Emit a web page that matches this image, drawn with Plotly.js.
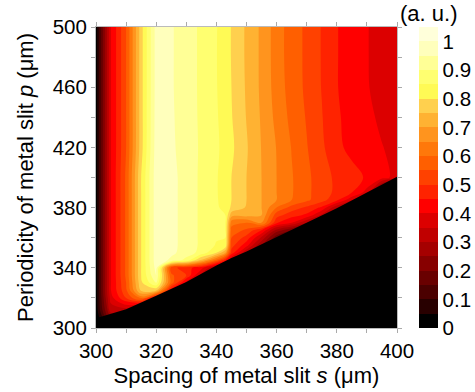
<!DOCTYPE html>
<html>
<head>
<meta charset="utf-8">
<script src="https://cdn.plot.ly/plotly-3.0.1.min.js"></script>
<style>html,body{margin:0;padding:0;background:#fff;}#chart{width:475px;height:392px;}</style>
</head>
<body>
<div id="chart"></div>
<script>
// Spacing of metal slit s (um) - columns
const spacing = [300,305,310,315,320,325,330,335,340,343,345,350,355,360,365,370,375,380,385,390,395,400];
// Periodicity of metal slit p (um) - rows
const periodicity = [300,310,320,325,330,335,340,345,350,355,360,365,370,375,380,385,390,400,420,440,460,480,500];
// Normalized intensity (a. u.), one row per periodicity value
const z300 = [0,0.10,0.05,0,0,0,0,0,0,0,0,0,0,0,0,0,0,0,0,0,0,0];
const z310 = [0.01,0.30,0.28,0.05,0,0,0,0,0,0,0,0,0,0,0,0,0,0,0,0,0,0];
const z320 = [0.02,0.38,0.50,0.62,0.40,0.05,0,0,0,0,0,0,0,0,0,0,0,0,0,0,0,0];
const z325 = [0.02,0.40,0.54,0.76,0.76,0.42,0.02,0,0,0,0,0,0,0,0,0,0,0,0,0,0,0];
const z330 = [0.02,0.40,0.55,0.79,0.90,0.58,0.38,0.03,0,0,0,0,0,0,0,0,0,0,0,0,0,0];
const z335 = [0.02,0.40,0.56,0.80,0.95,0.56,0.50,0.33,0.03,0.01,0,0,0,0,0,0,0,0,0,0,0,0];
const z340 = [0.02,0.40,0.56,0.80,0.97,0.52,0.47,0.42,0.28,0.15,0.08,0,0,0,0,0,0,0,0,0,0,0];
const z345 = [0.02,0.40,0.56,0.80,0.98,0.94,0.88,0.74,0.58,0.45,0.33,0.06,0,0,0,0,0,0,0,0,0,0];
const z350 = [0.02,0.40,0.56,0.80,0.98,0.96,0.93,0.88,0.80,0.70,0.48,0.30,0.06,0,0,0,0,0,0,0,0,0];
const z355 = [0.02,0.40,0.56,0.80,0.98,0.965,0.93,0.89,0.845,0.84,0.52,0.42,0.25,0.04,0,0,0,0,0,0,0,0];
const z360 = [0.02,0.40,0.56,0.80,0.98,0.965,0.93,0.89,0.855,0.85,0.55,0.48,0.34,0.16,0.02,0,0,0,0,0,0,0];
const z365 = [0.02,0.40,0.56,0.80,0.98,0.965,0.93,0.89,0.855,0.85,0.58,0.54,0.45,0.28,0.20,0.03,0,0,0,0,0,0];
const z370 = [0.02,0.40,0.56,0.80,0.98,0.965,0.93,0.89,0.855,0.85,0.62,0.60,0.66,0.46,0.40,0.30,0.05,0,0,0,0,0];
const z375 = [0.02,0.40,0.56,0.80,0.98,0.965,0.93,0.89,0.855,0.85,0.72,0.72,0.70,0.52,0.47,0.44,0.34,0.06,0,0,0,0];
const z380 = [0.02,0.40,0.56,0.80,0.98,0.965,0.93,0.89,0.855,0.84,0.79,0.745,0.70,0.60,0.53,0.49,0.44,0.31,0.05,0,0,0];
const z385 = [0.02,0.40,0.56,0.80,0.98,0.965,0.93,0.89,0.855,0.83,0.80,0.75,0.70,0.65,0.60,0.56,0.52,0.46,0.36,0.08,0,0];
const z390 = [0.02,0.40,0.56,0.80,0.98,0.965,0.93,0.89,0.855,0.822,0.80,0.75,0.70,0.65,0.604,0.563,0.52,0.49,0.45,0.38,0.10,0];
const z400 = [0.02,0.40,0.56,0.80,0.98,0.965,0.93,0.89,0.855,0.822,0.80,0.75,0.70,0.65,0.604,0.563,0.52,0.49,0.465,0.445,0.42,0.38];
const z420 = [0.02,0.40,0.55,0.78,0.975,0.96,0.925,0.893,0.86,0.83,0.81,0.755,0.698,0.648,0.598,0.553,0.51,0.46,0.438,0.422,0.402,0.385];
const z440 = [0.02,0.40,0.55,0.78,0.972,0.957,0.925,0.891,0.856,0.825,0.803,0.748,0.694,0.636,0.586,0.546,0.503,0.456,0.434,0.412,0.39,0.375];
const z460 = [0.02,0.40,0.55,0.78,0.97,0.955,0.925,0.89,0.853,0.82,0.80,0.744,0.69,0.628,0.578,0.54,0.498,0.452,0.43,0.404,0.38,0.365];
const z480 = [0.02,0.40,0.55,0.78,0.97,0.955,0.925,0.89,0.852,0.82,0.798,0.742,0.69,0.625,0.575,0.54,0.497,0.452,0.43,0.403,0.378,0.362];
const z500 = [0.02,0.40,0.55,0.78,0.97,0.955,0.925,0.89,0.853,0.82,0.798,0.742,0.69,0.625,0.575,0.54,0.497,0.452,0.43,0.403,0.378,0.362];
const intensity = [z300,z310,z320,z325,z330,z335,z340,z345,z350,z355,z360,z365,z370,z375,z380,z385,z390,z400,z420,z440,z460,z480,z500];

// Lower limit of valid periodicity (p ~ s): below it the signal is zero
const boundaryS = [300,310,320,330,340,345,350,360,370,380,390,400];
const boundaryP = [306.5,312.5,321.5,330.5,341.5,346.5,350.8,360.5,370,379.5,390,400.5];

// Colorbar ticks
const cbTicks = [0,0.1,0.2,0.3,0.4,0.5,0.6,0.7,0.8,0.9,1];
const cbLabels = ['0','0.1','0.2','0.3','0.4','0.5','0.6','0.7','0.8','0.9','1'];

// Band colours (one per 0.05 level band, from 0 up to 1.05)
const bandColors = [
  'rgb(0,0,0)','rgb(40,0,0)','rgb(75,0,0)','rgb(105,0,0)','rgb(135,0,0)','rgb(165,0,0)',
  'rgb(192,0,0)','rgb(220,0,0)','rgb(255,0,0)','rgb(255,35,0)','rgb(255,65,0)','rgb(255,95,0)',
  'rgb(255,120,10)','rgb(255,148,30)','rgb(255,178,50)','rgb(255,208,78)','rgb(255,250,85)',
  'rgb(255,255,112)','rgb(255,255,150)','rgb(255,255,188)','rgb(255,255,218)'
];
const n = bandColors.length - 1;
const colorscale = [];
bandColors.forEach((c, k) => {
  const lo = Math.max(0, (k - 0.5) / n), hi = Math.min(1, (k + 0.5) / n);
  colorscale.push([lo, c]); colorscale.push([hi, c]);
});

const font = 'Liberation Sans, Arial, Helvetica, sans-serif';

const traces = [
  {
    type: 'contour', x: spacing, y: periodicity, z: intensity,
    autocontour: false, zauto: false, zmin: 0, zmax: 1.05,
    contours: {start: 0.05, end: 1.0, size: 0.05, coloring: 'fill', showlines: false},
    line: {width: 0},
    colorscale: colorscale,
    colorbar: {
      x: 1.0731, xanchor: 'left', y: 0, yanchor: 'bottom', len: 1, lenmode: 'fraction',
      thickness: 19, xpad: 0, ypad: 0, outlinewidth: 0,
      tickvals: cbTicks, ticktext: cbLabels, ticks: '',
      tickfont: {family: font, size: 20.5, color: '#000'}
    },
    hoverinfo: 'skip'
  },
  {
    type: 'scatter', mode: 'lines', x: boundaryS, y: boundaryP,
    fill: 'tozeroy', fillcolor: '#000', line: {width: 0, color: '#000'},
    showlegend: false, hoverinfo: 'skip'
  }
];

const axisCommon = {
  ticks: 'outside', ticklen: 4, tickcolor: '#aaa', tickwidth: 1,
  showline: true, linecolor: '#bbb', linewidth: 1, mirror: 'allticks',
  showgrid: false, zeroline: false,
  tickfont: {family: font, size: 20.5, color: '#000'}
};

const layout = {
  width: 475, height: 392,
  margin: {l: 96, r: 78, t: 27, b: 64, autoexpand: false},
  paper_bgcolor: '#fff', plot_bgcolor: '#fff',
  showlegend: false,
  xaxis: Object.assign({}, axisCommon, {
    range: [300, 400], tick0: 300, dtick: 20,
    minor: {dtick: 10, ticks: 'outside', ticklen: 4, tickcolor: '#aaa'},
    title: {text: 'Spacing of metal slit <i>s</i> (μm)', font: {family: font, size: 22, color: '#000'}, standoff: 7}
  }),
  yaxis: Object.assign({}, axisCommon, {
    range: [300, 500], tick0: 300, dtick: 40,
    minor: {dtick: 20, ticks: 'outside', ticklen: 4, tickcolor: '#aaa'},
    title: {text: 'Periodicity of metal slit <i>p</i> (μm)', font: {family: font, size: 22, color: '#000'}, standoff: 12}
  }),
  annotations: [{
    text: '(a. u.)', xref: 'paper', yref: 'paper', x: 1.106, y: 1.045,
    xanchor: 'center', yanchor: 'middle', showarrow: false,
    font: {family: font, size: 22, color: '#000'}
  }]
};

Plotly.newPlot('chart', traces, layout, {displayModeBar: false, staticPlot: true});
</script>
</body>
</html>
